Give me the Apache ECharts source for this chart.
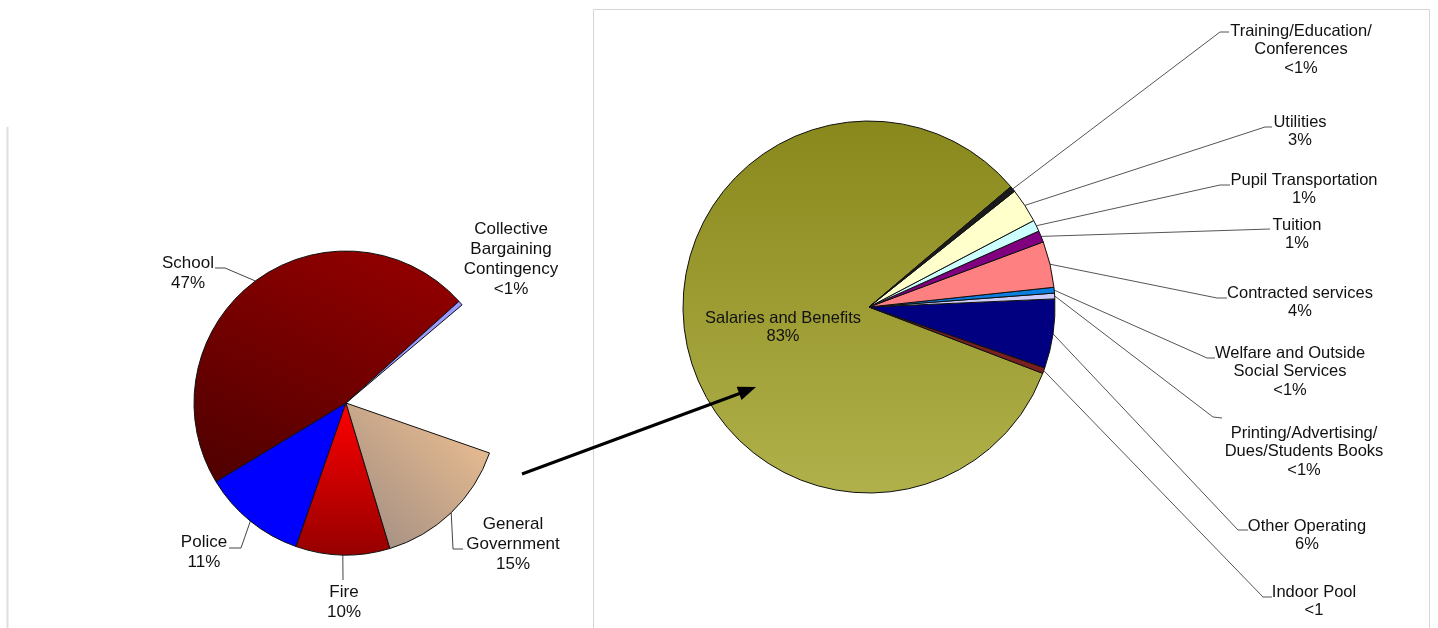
<!DOCTYPE html>
<html>
<head>
<meta charset="utf-8">
<title>Budget breakdown</title>
<script src="https://cdn.jsdelivr.net/npm/echarts@6/dist/echarts.min.js"></script>
<style>
  html, body { margin: 0; padding: 0; background: #ffffff; }
  #chart { width: 1438px; height: 628px; }
</style>
</head>
<body>
<div id="chart"></div>
<script>
// Town budget by department (percent of total)
const deptNames = ['School', 'Police', 'Fire', 'General\nGovernment', 'Unlabeled share', 'Collective\nBargaining\nContingency'];
const deptValues = [47, 11, 10, 15, 16.5, 0.5];

// School budget by expense type (percent of school total)
const schoolNames = [
  'Salaries and Benefits', 'Indoor Pool', 'Other Operating',
  'Printing/Advertising/\nDues/Students Books', 'Welfare and Outside\nSocial Services',
  'Contracted services', 'Tuition', 'Pupil Transportation', 'Utilities',
  'Training/Education/\nConferences'
];
const schoolValues = [83, 0.5, 6, 0.5, 0.5, 4, 1, 1, 3, 0.5];

// Entries whose label omits the percent sign
const bareLabels = ['Indoor Pool'];

const FONT = "'Liberation Sans', Arial, sans-serif";

function grad(x, y, x2, y2, c0, c1) {
  return new echarts.graphic.LinearGradient(x, y, x2, y2, [
    { offset: 0, color: c0 }, { offset: 1, color: c1 }
  ]);
}

// Slice fills, same order as the arrays above
const deptFills = [
  grad(0.6, 0, 0.2, 1, '#8e0000', '#520000'),
  '#0000ff',
  grad(0, 0, 0, 1, '#ff0000', '#960000'),
  grad(1, 0, 0, 1, '#f3c392', '#9c8a82'),
  'rgba(0,0,0,0)',
  '#9999ff'
];
const schoolFills = [
  grad(0, 0, 0, 1, '#88881c', '#b1b14b'),
  '#7a1f1f', '#000080', '#ccccff', '#0a7fe0', '#ff8080',
  '#800080', '#ccffff', '#ffffcc', '#1a1a1a'
];

// Label anchors (top-centre of each text block) and leader-line bends
const deptLabelSpots = [
  { x: 188, y: 253, line: [[225, 268], [215, 268]] },
  { x: 204, y: 532, line: [[241, 548], [229, 548]] },
  { x: 344, y: 582, line: [[343, 580]] },
  { x: 513, y: 514, line: [[453, 549], [463, 549]] },
  null,
  { x: 511, y: 219 }
];
const schoolLabelSpots = [
  { x: 783, y: 309 },
  { x: 1314, y: 583, line: [[1263, 597], [1272, 597]] },
  { x: 1307, y: 517, line: [[1238, 530], [1248, 530]] },
  { x: 1304, y: 424, line: [[1213, 417], [1222, 418]] },
  { x: 1290, y: 344, line: [[1207, 358], [1215, 358]] },
  { x: 1300, y: 284, line: [[1217, 298], [1227, 298]] },
  { x: 1297, y: 216, line: [[1270, 229]] },
  { x: 1304, y: 171, line: [[1220, 185], [1230, 185]] },
  { x: 1300, y: 113, line: [[1265, 127], [1272, 127]] },
  { x: 1301, y: 22, line: [[1220, 32], [1229, 32]] }
];

function labelText(p) {
  const v = p.value;
  const num = v < 1 ? '<1' : String(v);
  const suffix = bareLabels.indexOf(p.name) >= 0 ? '' : '%';
  return p.name + '\n' + num + suffix;
}

function makeLayout(spots) {
  return function (p) {
    const s = spots[p.dataIndex];
    if (!s) return {};
    const out = { x: s.x, y: s.y, align: 'center', verticalAlign: 'top' };
    if (s.line && p.labelLinePoints && p.labelLinePoints.length) {
      out.labelLinePoints = [p.labelLinePoints[0]].concat(s.line);
    }
    return out;
  };
}

function buildData(names, values, fills, opts) {
  return names.map(function (n, i) {
    const item = {
      name: n,
      value: values[i],
      itemStyle: { color: fills[i] }
    };
    if (opts.hidden === i) {
      item.itemStyle = { color: 'rgba(0,0,0,0)', borderWidth: 0 };
      item.label = { show: false };
      item.labelLine = { show: false };
    }
    if (opts.noLine && opts.noLine.indexOf(i) >= 0) {
      item.labelLine = { show: false };
    }
    if (opts.inside === i) {
      item.label = { position: 'inside' };
      item.labelLine = { show: false };
    }
    return item;
  });
}

const chart = echarts.init(document.getElementById('chart'), null, { renderer: 'canvas' });

chart.setOption({
  backgroundColor: '#ffffff',
  animation: false,
  graphic: [
    {
      type: 'rect', z: 0, silent: true,
      shape: { x: 593.5, y: 9.5, width: 836, height: 660 },
      style: { fill: 'none', stroke: '#d6d6d6', lineWidth: 1 }
    },
    {
      type: 'line', z: 0, silent: true,
      shape: { x1: 7.5, y1: 127, x2: 7.5, y2: 628 },
      style: { stroke: '#dedede', lineWidth: 2 }
    },
    {
      type: 'group', z: 100, silent: true,
      children: [
        {
          type: 'line', z: 100,
          shape: { x1: 522, y1: 474, x2: 741, y2: 393 },
          style: { stroke: '#000000', lineWidth: 3 }
        },
        {
          type: 'polygon', z: 100,
          shape: { points: [[756, 387], [741.5, 400], [736.7, 386.7]] },
          style: { fill: '#000000' }
        }
      ]
    }
  ],
  series: [
    {
      name: 'Departments',
      type: 'pie',
      center: [346, 403],
      radius: [0, 152],
      startAngle: 42,
      clockwise: false,
      avoidLabelOverlap: false,
      emphasis: { disabled: true },
      itemStyle: { borderColor: '#111111', borderWidth: 1 },
      label: {
        show: true, position: 'outside', formatter: labelText,
        fontFamily: FONT, fontSize: 17, lineHeight: 20, color: '#111111'
      },
      labelLine: { show: true, lineStyle: { color: '#444444', width: 1 } },
      labelLayout: makeLayout(deptLabelSpots),
      data: buildData(deptNames, deptValues, deptFills, { hidden: 4, noLine: [5] })
    },
    {
      name: 'School',
      type: 'pie',
      center: [869, 307],
      radius: [0, 186],
      startAngle: 40.3,
      clockwise: false,
      avoidLabelOverlap: false,
      emphasis: { disabled: true },
      itemStyle: { borderColor: '#111111', borderWidth: 1 },
      label: {
        show: true, position: 'outside', formatter: labelText,
        fontFamily: FONT, fontSize: 16.5, lineHeight: 18.5, color: '#111111'
      },
      labelLine: { show: true, lineStyle: { color: '#555555', width: 1 } },
      labelLayout: makeLayout(schoolLabelSpots),
      data: buildData(schoolNames, schoolValues, schoolFills, { inside: 0 })
    }
  ]
});
</script>
</body>
</html>
